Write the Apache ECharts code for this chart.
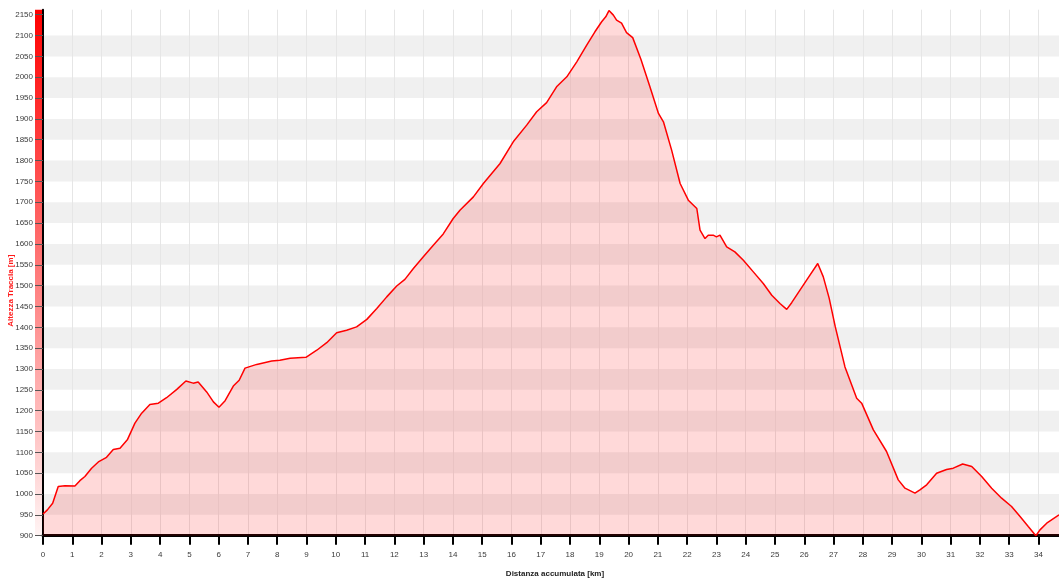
<!DOCTYPE html>
<html>
<head>
<meta charset="utf-8">
<script src="https://cdn.jsdelivr.net/npm/echarts@6/dist/echarts.min.js"></script>
<style>
  html, body { margin: 0; padding: 0; background: #ffffff; }
  #chart { width: 1059px; height: 581px; }
</style>
</head>
<body>
<div id="chart"></div>
<script>
// Elevation profile: accumulated distance (km) vs track altitude (m)
const distanceKm = [
  0.00, 0.15, 0.33, 0.52, 0.75, 1.09, 1.26, 1.43, 1.66, 1.89,
  2.17, 2.40, 2.63, 2.88, 3.14, 3.37, 3.65, 3.94, 4.22, 4.57,
  4.88, 5.13, 5.30, 5.59, 5.82, 6.01, 6.22, 6.50, 6.70, 6.90,
  7.30, 7.81, 8.09, 8.44, 8.98, 9.35, 9.69, 10.03, 10.37, 10.71,
  11.06, 11.40, 11.74, 12.08, 12.36, 12.65, 12.99, 13.33, 13.67, 14.01,
  14.24, 14.70, 15.04, 15.61, 16.06, 16.52, 16.86, 17.20, 17.54, 17.89,
  18.23, 18.57, 18.85, 19.08, 19.22, 19.33, 19.48, 19.59, 19.76, 19.93,
  20.14, 20.42, 20.72, 21.02, 21.19, 21.47, 21.76, 22.04, 22.33, 22.44,
  22.61, 22.72, 22.89, 23.00, 23.12, 23.35, 23.63, 23.92, 24.26, 24.60,
  24.89, 25.17, 25.40, 25.57, 25.74, 26.08, 26.46, 26.65, 26.85, 27.06,
  27.39, 27.79, 27.96, 28.36, 28.81, 29.21, 29.44, 29.78, 29.95, 30.18,
  30.52, 30.86, 31.09, 31.41, 31.72, 32.06, 32.40, 32.74, 33.08, 33.37,
  33.65, 33.91, 34.05, 34.28, 34.70
];
const altitudeM = [
  952, 962, 978, 1018, 1020, 1019, 1032, 1042, 1062, 1077,
  1088, 1107, 1110, 1130, 1170, 1194, 1215, 1218, 1231, 1251,
  1271, 1266, 1269, 1245, 1221, 1208, 1224, 1259, 1273, 1302,
  1311, 1319, 1321, 1326, 1328, 1345, 1363, 1387, 1393, 1401,
  1419, 1445, 1473, 1499, 1515, 1541, 1569, 1597, 1624, 1661,
  1681, 1713, 1745, 1793, 1845, 1885, 1917, 1939, 1977, 2001,
  2037, 2077, 2109, 2133, 2145, 2160, 2149, 2137, 2130, 2107,
  2095, 2043, 1979, 1913, 1893, 1825, 1745, 1705, 1685, 1633,
  1613, 1621, 1621, 1617, 1621, 1593, 1581, 1561, 1533, 1505,
  1477, 1457, 1443, 1459, 1477, 1513, 1553, 1521, 1470, 1401,
  1305, 1230, 1218, 1154, 1102, 1034, 1014, 1002, 1010, 1022,
  1050, 1059, 1062, 1072, 1066, 1042, 1014, 990, 970, 946,
  922, 900, 914, 930, 950
];
const xTickValues = Array.from({ length: 35 }, (_, i) => i);          // 0 … 34 km
const yTickValues = Array.from({ length: 26 }, (_, i) => 900 + i * 50); // 900 … 2150 m

const xMin = 0, xMax = 34.7;
const yMin = 900, yMax = 2162;

// plot frame in pixels
const GRID = { left: 43, right: 0, top: 9.7, bottom: 45.3 };
const W = 1059, H = 581;

const chart = echarts.init(document.getElementById('chart'), null, { renderer: 'canvas' });

const labelFont = { fontFamily: 'Liberation Sans', fontSize: 8, color: '#3a3a3a' };

chart.setOption({
  animation: false,
  backgroundColor: '#ffffff',
  grid: { ...GRID, containLabel: false, outerBoundsMode: 'none' },
  graphic: [{
    // altitude colour bar beside the vertical axis
    type: 'rect',
    z: -1,
    shape: { x: GRID.left - 8, y: GRID.top, width: 8, height: H - GRID.top - GRID.bottom },
    style: {
      fill: new echarts.graphic.LinearGradient(0, 0, 0, 1, [
        { offset: 0, color: '#ff0000' },
        { offset: 1, color: '#fff4f4' }
      ])
    }
  }],
  xAxis: {
    type: 'value',
    min: xMin,
    max: xMax,
    interval: 1,
    name: 'Distanza accumulata [km]',
    nameLocation: 'middle',
    nameGap: 34,
    nameTextStyle: { fontFamily: 'Liberation Sans', fontSize: 8, fontWeight: 'bold', color: '#222', padding: [0, 0, 0, 8] },
    axisLine: { show: true, onZero: false, lineStyle: { color: '#000', width: 3 } },
    axisTick: { show: true, length: 9, customValues: xTickValues, lineStyle: { color: '#000', width: 2 } },
    axisLabel: { customValues: xTickValues, margin: 15, formatter: v => String(v), ...labelFont },
    splitLine: { show: true, lineStyle: { color: '#e6e6e6', width: 1 } },
    splitArea: { show: false }
  },
  yAxis: {
    type: 'value',
    min: yMin,
    max: yMax,
    interval: 50,
    name: 'Altezza Traccia [m]',
    nameLocation: 'middle',
    nameMoveOverlap: false,
    nameGap: 28,
    nameTextStyle: { fontFamily: 'Liberation Sans', fontSize: 8, fontWeight: 'bold', color: '#ff1a1a', padding: [0, 36, 0, 0] },
    axisLine: { show: true, onZero: false, lineStyle: { color: '#000', width: 2 } },
    axisTick: { show: true, length: 8, customValues: yTickValues, lineStyle: { color: '#555', width: 1 } },
    axisLabel: { customValues: yTickValues, margin: 10, formatter: v => String(v), ...labelFont },
    splitLine: { show: false },
    splitArea: { show: true, areaStyle: { color: ['rgba(255,255,255,0)', '#f0f0f0'] } }
  },
  series: [{
    type: 'line',
    data: distanceKm.map((d, i) => [d, altitudeM[i]]),
    showSymbol: false,
    symbol: 'none',
    lineStyle: { color: '#ff0000', width: 1.5 },
    areaStyle: { color: 'rgba(255,0,0,0.21)', origin: 'start' },
    z: 3
  }]
});
</script>
</body>
</html>
